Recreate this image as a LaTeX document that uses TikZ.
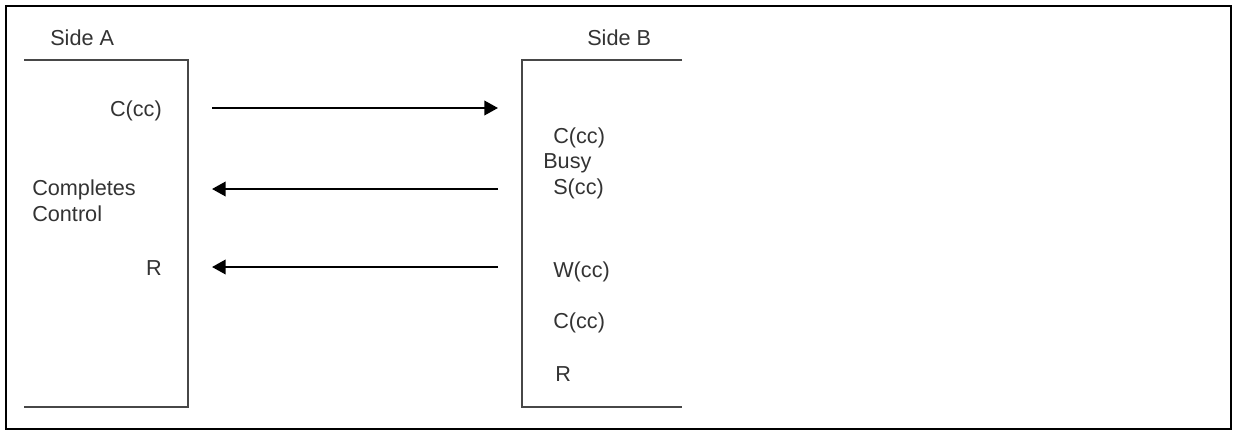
\documentclass[tikz,border=0pt]{standalone}
\usepackage{fontspec}
\setmainfont{Liberation Sans}
\usepackage{tikz}
\usetikzlibrary{arrows.meta}

\tikzset{
lbl/.style={inner sep=0pt,font=\fontsize{15.4}{18}\selectfont,text=black!80},
side/.style={line width=1.6pt,black!72},
msg/.style={line width=1.6pt,-{Triangle[length=0.34cm,width=0.36cm]}}
}

\begin{document}
\begin{tikzpicture}[x=0.025cm,y=-0.025cm]
\useasboundingbox (0,0) rectangle (1236,435);
\draw[line width=2pt](6,6) rectangle (1231,429);
% side A
\node[lbl,anchor=base west] (sideA) at (50,45) {Side A};
\draw[side](24,60)--(188,60)--(188,407)--(24,407);
\node[lbl,anchor=base east] (ccA) at (162,116) {C(cc)};
\node[lbl,anchor=base west] (compl) at (32,195) {Completes};
\node[lbl,anchor=base west] (ctrl) at (32,221) {Control};
\node[lbl,anchor=base east] (rA) at (162,275) {R};
% side B
\node[lbl,anchor=base west] (sideB) at (587,45) {Side B};
\draw[side](682,60)--(522,60)--(522,407)--(682,407);
\node[lbl,anchor=base west] (ccB) at (553,143) {C(cc)};
\node[lbl,anchor=base west] (busy) at (543,168) {Busy};
\node[lbl,anchor=base west] (scc) at (553,194) {S(cc)};
\node[lbl,anchor=base west] (wcc) at (553,277) {W(cc)};
\node[lbl,anchor=base west] (ccB2) at (553,328) {C(cc)};
\node[lbl,anchor=base west] (rB) at (555,381) {R};
% messages
\coordinate (a1) at (212,108);
\coordinate (b1) at (498,108);
\coordinate (a2) at (212,189);
\coordinate (b2) at (498,189);
\coordinate (a3) at (212,267);
\coordinate (b3) at (498,267);
\draw[msg](a1)--(b1);
\draw[msg](b2)--(a2);
\draw[msg](b3)--(a3);
\end{tikzpicture}
\end{document}
